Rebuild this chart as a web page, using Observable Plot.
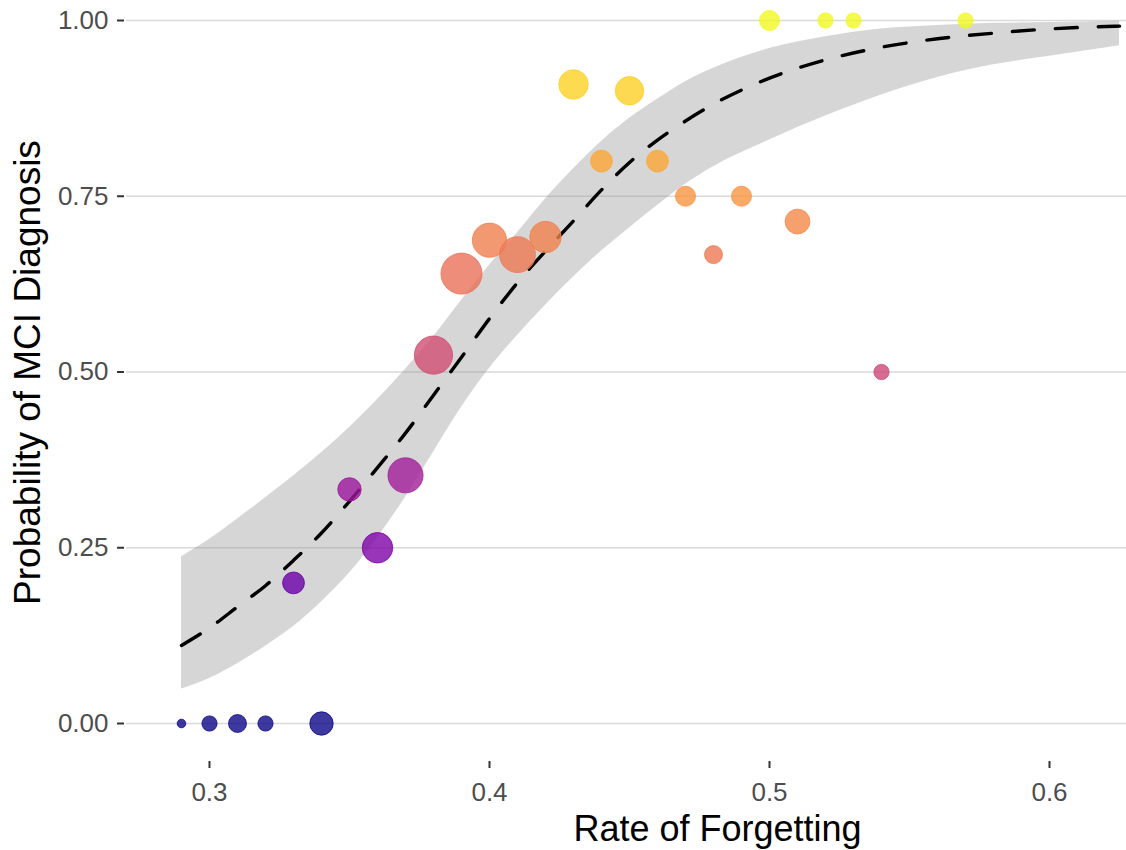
<!DOCTYPE html>
<html>
<head>
<meta charset="utf-8">
<script src="https://cdn.jsdelivr.net/npm/d3@7"></script>
<script src="https://cdn.jsdelivr.net/npm/@observablehq/plot@0.6"></script>
<style>
  html, body { margin: 0; padding: 0; background: #ffffff; overflow: hidden; }
  #chart svg { display: block; }
</style>
</head>
<body>
<div id="chart"></div>
<script>
// Observed proportions (points)
const rate = [0.29,0.30,0.31,0.32,0.33,0.34,0.35,0.36,0.37,0.38,0.39,0.40,0.41,0.42,0.43,0.44,0.45,0.46,0.47,0.48,0.49,0.50,0.51,0.52,0.53,0.54,0.57];
const prob = [0,0,0,0,0.2,0,0.333,0.25,0.353,0.524,0.64,0.6875,0.667,0.692,0.909,0.8,0.9,0.8,0.75,0.667,0.75,1,0.714,1,1,0.5,1];
const count = [1,2,3,2,5,6,6,12,17,21,25,16,18,13,11,5,10,5,4,3,4,4,7,2,2,2,2];

// Fitted curve and confidence band
const fitX = [0.29,0.30,0.31,0.32,0.33,0.34,0.35,0.36,0.37,0.38,0.39,0.40,0.41,0.42,0.43,0.44,0.45,0.46,0.47,0.48,0.50,0.52,0.54,0.56,0.58,0.60,0.625];
const fitY = [0.111,0.136,0.166,0.196,0.232,0.271,0.316,0.364,0.413,0.467,0.521,0.576,0.627,0.672,0.715,0.759,0.798,0.830,0.857,0.881,0.918,0.944,0.962,0.974,0.982,0.988,0.992];
const fitUpper = [0.237,0.262,0.291,0.321,0.352,0.385,0.421,0.461,0.504,0.550,0.602,0.652,0.698,0.746,0.789,0.828,0.861,0.888,0.913,0.932,0.960,0.977,0.988,0.993,0.996,0.997,0.999];
const fitLower = [0.049,0.064,0.085,0.110,0.138,0.173,0.214,0.264,0.322,0.386,0.450,0.505,0.552,0.595,0.635,0.672,0.705,0.737,0.767,0.792,0.830,0.864,0.894,0.919,0.937,0.949,0.964];

const xTicks = [0.3, 0.4, 0.5, 0.6];
const yTicks = [0, 0.25, 0.5, 0.75, 1];
const xTitle = "Rate of Forgetting";
const yTitle = "Probability of MCI Diagnosis";

const points = rate.map((x, i) => ({x, y: prob[i], n: count[i]}));
const band = fitX.map((x, i) => ({x, fit: fitY[i], lo: fitLower[i], hi: fitUpper[i]}));

const font = "'Liberation Sans', Arial, sans-serif";
const W = 1126, H = 850, ML = 126, MB = 90;

const chart = Plot.plot({
  width: W,
  height: H,
  marginLeft: ML,
  marginRight: 0,
  marginTop: 0,
  marginBottom: MB,
  style: {fontFamily: font, background: "#ffffff", overflow: "visible"},
  x: {domain: [0.27036, 0.6275]},
  y: {domain: [-0.05263, 1.02845]},
  r: {type: "sqrt", domain: [0, 24], range: [4.3, 20.5]},
  color: {type: "linear", scheme: "plasma", domain: [0, 1]},
  marks: [
    Plot.gridY(yTicks, {stroke: "#d9d9d9", strokeOpacity: 1, strokeWidth: 1.6}),
    Plot.areaY(band, {x: "x", y1: "lo", y2: "hi", fill: "#999999", fillOpacity: 0.4, curve: "monotone-x"}),
    Plot.line(band, {x: "x", y: "fit", stroke: "#000000", strokeWidth: 3.4, strokeDasharray: "22,21", curve: "monotone-x"}),
    Plot.dot(points, {x: "x", y: "y", r: d => d.n - 1, fill: "y", stroke: "y", fillOpacity: 0.8, strokeOpacity: 0.8, strokeWidth: 1, sort: null}),
    Plot.axisY(yTicks, {tickFormat: d3.format(".2f"), tickSize: 0, tickPadding: 18, fontSize: 26, color: "#4d4d4d", label: null}),
    Plot.axisX(xTicks, {tickFormat: d3.format(".1f"), tickSize: 0, tickPadding: 22, fontSize: 26, color: "#4d4d4d", label: null}),
    // short axis tick marks, just outside the panel
    Plot.tickY(yTicks, {y: d => d, insetLeft: -9, insetRight: W - ML + 2, stroke: "#333333", strokeWidth: 2, strokeOpacity: 1}),
    Plot.tickX(xTicks, {x: d => d, insetTop: H - MB + 1, insetBottom: -8, stroke: "#333333", strokeWidth: 2, strokeOpacity: 1}),
    Plot.text([xTitle], {frameAnchor: "bottom", textAnchor: "middle", lineAnchor: "bottom", dx: 91, dy: 80, fontSize: 36, fill: "#000000"}),
    Plot.text([yTitle], {frameAnchor: "left", textAnchor: "middle", lineAnchor: "bottom", rotate: -90, dx: -87, dy: -8, fontSize: 37, fill: "#000000"})
  ]
});

document.getElementById("chart").appendChild(chart);
</script>
</body>
</html>
